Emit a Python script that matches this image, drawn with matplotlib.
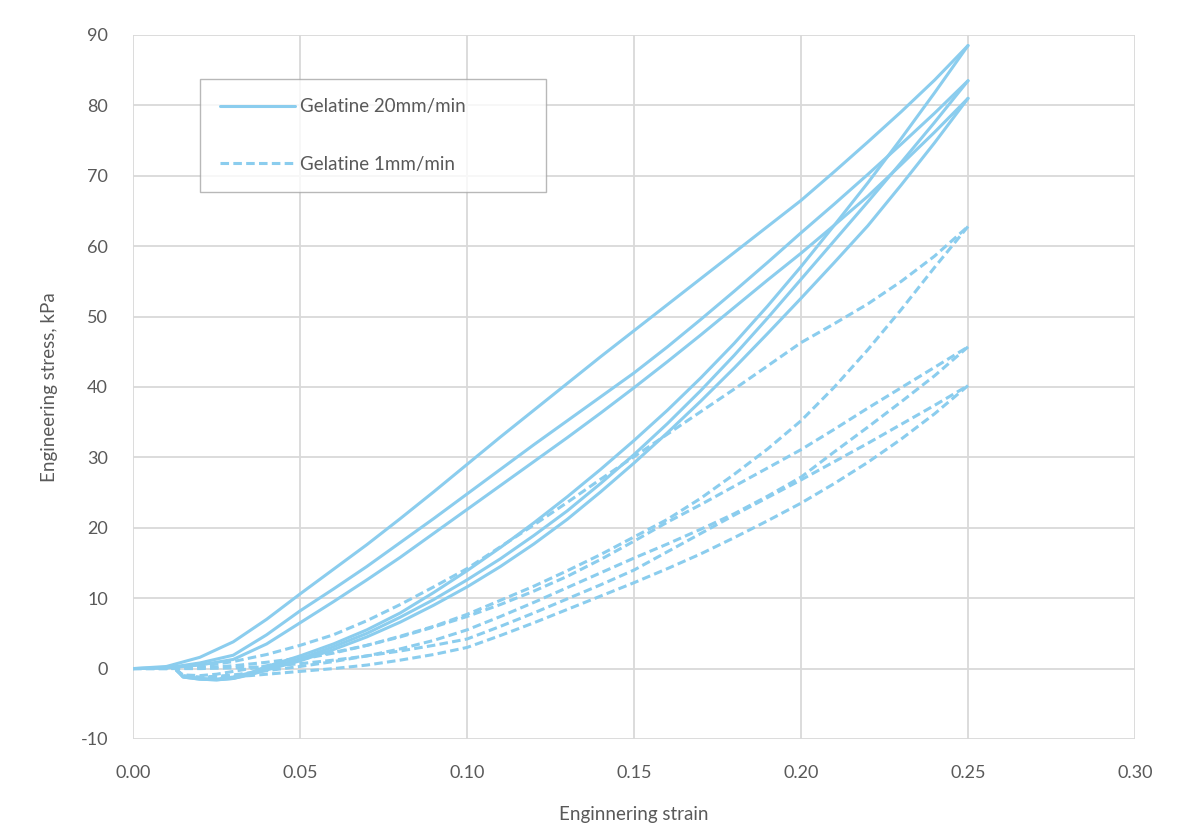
import matplotlib.pyplot as plt

plt.rcParams["font.family"] = ["Lato", "DejaVu Sans"]
plt.rcParams["axes.unicode_minus"] = False

LINE = "#8BCDEE"
GRID = "#D9D9D9"
TXT = "#595959"

# strain grids: loading runs 0 -> 0.25, unloading runs 0.25 -> back to ~0.013
strain_load = [0.00, 0.01, 0.02, 0.03, 0.04, 0.05, 0.06, 0.07, 0.08, 0.09, 0.10,
               0.11, 0.12, 0.13, 0.14, 0.15, 0.16, 0.17, 0.18, 0.19, 0.20,
               0.21, 0.22, 0.23, 0.24, 0.25]
strain_unload = [0.25, 0.24, 0.23, 0.22, 0.21, 0.20, 0.19, 0.18, 0.17, 0.16, 0.15,
                 0.14, 0.13, 0.12, 0.11, 0.10, 0.09, 0.08, 0.07, 0.06, 0.05,
                 0.04, 0.035, 0.03, 0.025, 0.02, 0.015, 0.013]

# Gelatine 20mm/min, three cycles (kPa)
fast_load_1 = [0.0, 0.3, 1.6, 3.8, 7.0, 10.6, 14.1, 17.6, 21.3, 25.1, 29.0,
               32.9, 36.7, 40.5, 44.3, 48.0, 51.7, 55.4, 59.1, 62.8, 66.5,
               70.6, 74.8, 79.1, 83.6, 88.5]
fast_unload_1 = [88.5, 81.8, 75.3, 69.0, 63.0, 57.1, 51.5, 46.2, 41.3, 36.7, 32.4,
                 28.3, 24.4, 20.7, 17.2, 13.9, 10.8, 7.9, 5.5, 3.5, 1.8,
                 0.3, -0.6, -1.2, -1.5, -1.4, -1.1, -0.2]
fast_load_2 = [0.0, 0.1, 0.8, 1.9, 4.8, 8.2, 11.3, 14.5, 17.9, 21.3, 24.8,
               28.3, 31.8, 35.2, 38.6, 42.0, 45.7, 49.6, 53.6, 57.7, 61.9,
               66.0, 70.2, 74.5, 78.9, 83.5]
fast_unload_2 = [83.5, 77.6, 71.9, 66.3, 60.8, 55.3, 49.8, 44.5, 39.5, 34.8, 30.4,
                 26.3, 22.4, 18.9, 15.6, 12.6, 9.8, 7.3, 5.0, 3.1, 1.4,
                 0.0, -0.8, -1.4, -1.6, -1.5, -1.2, -0.2]
fast_load_3 = [0.0, 0.1, 0.5, 1.3, 3.5, 6.5, 9.5, 12.6, 15.8, 19.2, 22.6,
               26.0, 29.4, 32.8, 36.3, 39.9, 43.6, 47.4, 51.3, 55.2, 59.0,
               63.0, 67.1, 71.6, 76.2, 81.0]
fast_unload_3 = [81.0, 74.7, 68.7, 62.9, 57.7, 52.6, 47.6, 42.7, 38.0, 33.5, 29.2,
                 25.1, 21.2, 17.7, 14.5, 11.6, 9.0, 6.6, 4.5, 2.7, 1.1,
                 -0.2, -0.9, -1.4, -1.6, -1.5, -1.2, -0.2]

# Gelatine 1mm/min, three cycles (kPa)
slow_load_1 = [0.0, 0.0, 0.3, 1.0, 2.0, 3.3, 4.8, 6.8, 9.1, 11.6, 14.2,
               17.3, 20.4, 23.6, 26.9, 30.1, 33.3, 36.5, 39.7, 43.0, 46.3,
               49.0, 51.8, 55.0, 58.6, 62.8]
slow_unload_1 = [62.8, 57.0, 51.0, 45.3, 40.0, 35.2, 31.2, 27.6, 24.2, 21.2, 18.7,
                 16.2, 13.9, 11.7, 9.7, 7.7, 6.0, 4.6, 3.3, 2.2, 1.3,
                 0.4, 0.0, -0.4, -0.8, -1.0, -0.9, -0.2]
slow_load_2 = [0.0, 0.0, 0.1, 0.4, 0.9, 1.5, 2.3, 3.3, 4.5, 5.9, 7.4,
               9.1, 11.0, 13.1, 15.5, 18.1, 20.8, 23.3, 25.9, 28.5, 31.1,
               34.0, 37.0, 39.9, 42.8, 45.7]
slow_unload_2 = [45.7, 41.6, 37.9, 34.3, 30.8, 27.2, 24.5, 22.0, 19.8, 17.7, 15.7,
                 13.6, 11.5, 9.4, 7.4, 5.5, 4.0, 2.8, 1.8, 1.0, 0.3,
                 -0.3, -0.6, -0.9, -1.1, -1.2, -1.0, -0.2]
slow_load_3 = [0.0, 0.0, 0.0, 0.1, 0.3, 0.7, 1.2, 1.8, 2.5, 3.3, 4.2,
               6.0, 7.9, 9.9, 11.9, 14.0, 16.6, 19.2, 21.8, 24.3, 26.8,
               29.4, 32.0, 34.7, 37.4, 40.2]
slow_unload_3 = [40.2, 36.2, 32.6, 29.3, 26.3, 23.5, 21.0, 18.6, 16.3, 14.2, 12.2,
                 10.3, 8.4, 6.5, 4.7, 3.0, 2.0, 1.2, 0.5, 0.0, -0.4,
                 -0.8, -1.0, -1.1, -1.2, -1.3, -1.1, -0.2]

x_ticks = [0.00, 0.05, 0.10, 0.15, 0.20, 0.25, 0.30]
y_ticks = [-10, 0, 10, 20, 30, 40, 50, 60, 70, 80, 90]

fig = plt.figure(figsize=(11.91, 8.39), dpi=100)
ax = fig.add_axes([0.1117, 0.1192, 0.8413, 0.8391])

lw = 2.2
dash = (0, (2.8, 1.4))
fast = [(fast_load_1, fast_unload_1), (fast_load_2, fast_unload_2), (fast_load_3, fast_unload_3)]
slow = [(slow_load_1, slow_unload_1), (slow_load_2, slow_unload_2), (slow_load_3, slow_unload_3)]

for i, (up, down) in enumerate(slow):
    ax.plot(strain_load, up, color=LINE, lw=lw, ls=dash,
            label="Gelatine 1mm/min" if i == 0 else None)
    ax.plot(strain_unload, down, color=LINE, lw=lw, ls=dash)
for i, (up, down) in enumerate(fast):
    ax.plot(strain_load, up, color=LINE, lw=lw, solid_capstyle="round",
            label="Gelatine 20mm/min" if i == 0 else None)
    ax.plot(strain_unload, down, color=LINE, lw=lw, solid_capstyle="round")

ax.set_xlim(0, 0.30)
ax.set_ylim(-10, 90)
ax.set_xticks(x_ticks)
ax.set_xticklabels([f"{v:.2f}" for v in x_ticks])
ax.set_yticks(y_ticks)
ax.grid(True, color=GRID, lw=1.3)
ax.set_axisbelow(True)
for s in ax.spines.values():
    s.set_visible(False)
ax.tick_params(length=0, labelsize=13, labelcolor=TXT)
ax.tick_params(axis="x", pad=19)
ax.tick_params(axis="y", pad=18)

ax.set_xlabel("Enginnering strain", fontsize=13.5, color=TXT, labelpad=18)
ax.set_ylabel("Engineering stress, kPa", fontsize=13.5, color=TXT, labelpad=16)

handles, labels = ax.get_legend_handles_labels()
order = [1, 0]
leg = ax.legend([handles[k] for k in order], [labels[k] for k in order],
                loc="center", bbox_to_anchor=(0.067, 0.7756, 0.345, 0.1634),
                mode="expand", fontsize=13.5, handlelength=4.0, handletextpad=0.3,
                labelspacing=2.15, borderpad=1.05, borderaxespad=0,
                fancybox=False, frameon=True)
leg.get_frame().set_edgecolor("#A6A6A6")
leg.get_frame().set_linewidth(1.0)
for t in leg.get_texts():
    t.set_color(TXT)

fig.savefig("out.png", dpi=100, facecolor="white")
